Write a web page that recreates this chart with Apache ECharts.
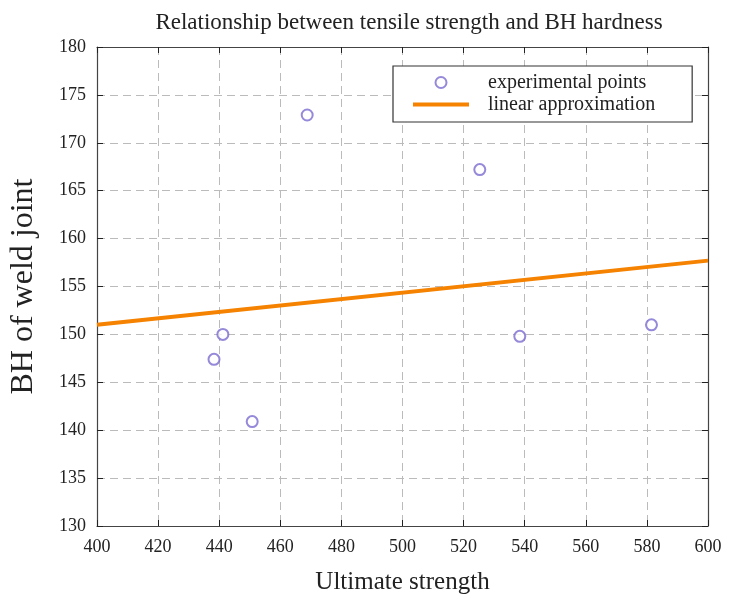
<!DOCTYPE html>
<html>
<head>
<meta charset="utf-8">
<script src="https://cdn.jsdelivr.net/npm/echarts@6/dist/echarts.min.js"></script>
<style>html,body{margin:0;padding:0;background:#fff}#c{width:730px;height:600px}</style>
</head>
<body>
<div id="c"></div>
<script>
var titleText = 'Relationship between tensile strength and BH hardness';
var xName = 'Ultimate strength';
var yName = 'BH of weld joint';
var pointsName = 'experimental points';
var lineName = 'linear approximation';
var expX = [438.3, 441.2, 450.8, 468.8, 525.3, 538.4, 581.5];
var expY = [147.4, 150.0, 140.9, 172.9, 167.2, 149.8, 151.0];
var fitX = [400, 600];
var fitY = [151.0, 157.7];
var xMin = 400, xMax = 600, xStep = 20;
var yMin = 130, yMax = 180, yStep = 5;

var FONT = 'Liberation Serif';
var PURPLE = '#7B6CD0', ORANGE = '#F58200';
var chart = echarts.init(document.getElementById('c'), null, {renderer: 'canvas'});
var pts = expX.map(function (x, i) { return [x, expY[i]]; });
var fit = fitX.map(function (x, i) { return [x, fitY[i]]; });
var axisLine = {show: true, lineStyle: {color: '#444', width: 1.2}};
var tick = {show: true, inside: true, length: 6, lineStyle: {color: '#222', width: 1}};
chart.setOption({
  backgroundColor: '#fff',
  animation: false,
  title: {text: titleText, left: 404, textAlign: 'center', top: 6,
    textStyle: {fontFamily: FONT, fontWeight: 'normal', fontSize: 23, color: '#222'}},
  grid: {left: 94, right: 22, top: 47, bottom: 68},
  legend: {
    orient: 'vertical', left: 393, top: 66,
    padding: [6, 37, 7, 18], itemGap: 1, itemWidth: 56, itemHeight: 11,
    borderColor: '#333', borderWidth: 1.2, backgroundColor: '#fff',
    textStyle: {fontFamily: FONT, fontSize: 20, color: '#222', padding: [0, 0, 0, 14], lineHeight: 21},
    data: [
      {name: pointsName, icon: 'emptyCircle', itemStyle: {color: PURPLE, borderColor: PURPLE, borderWidth: 1.5}},
      {name: lineName, lineStyle: {width: 4, color: ORANGE}}
    ]
  },
  xAxis: [{
    type: 'value', min: xMin, max: xMax, interval: xStep,
    name: xName, nameLocation: 'middle', nameGap: 44,
    nameTextStyle: {fontFamily: FONT, fontSize: 25, color: '#222'},
    axisLine: axisLine, axisTick: tick,
    axisLabel: {fontFamily: FONT, fontSize: 18, color: '#222', margin: 12},
    splitLine: {show: true, lineStyle: {type: [8, 5], color: '#bbb', width: 1}}
  }, {
    type: 'value', min: xMin, max: xMax, interval: xStep, position: 'top',
    axisLine: axisLine, axisTick: tick, axisLabel: {show: false}, splitLine: {show: false}
  }],
  yAxis: [{
    type: 'value', min: yMin, max: yMax, interval: yStep,
    name: yName, nameLocation: 'middle', nameGap: 57,
    nameTextStyle: {fontFamily: FONT, fontSize: 32, color: '#222'},
    axisLine: axisLine, axisTick: tick,
    axisLabel: {fontFamily: FONT, fontSize: 18, color: '#222', margin: 11},
    splitLine: {show: true, lineStyle: {type: [8, 5], color: '#bbb', width: 1}}
  }, {
    type: 'value', min: yMin, max: yMax, interval: yStep, position: 'right',
    axisLine: axisLine, axisTick: tick, axisLabel: {show: false}, splitLine: {show: false}
  }],
  series: [{
    name: pointsName, type: 'scatter', data: pts,
    symbol: 'emptyCircle', symbolSize: 11,
    itemStyle: {color: PURPLE, borderColor: PURPLE, borderWidth: 1.5}, z: 5
  }, {
    name: lineName, type: 'line', data: fit, showSymbol: false, symbol: 'none',
    lineStyle: {color: ORANGE, width: 4}, itemStyle: {color: 'rgba(0,0,0,0)', borderColor: 'rgba(0,0,0,0)'}, z: 4
  }]
});
</script>
</body>
</html>
